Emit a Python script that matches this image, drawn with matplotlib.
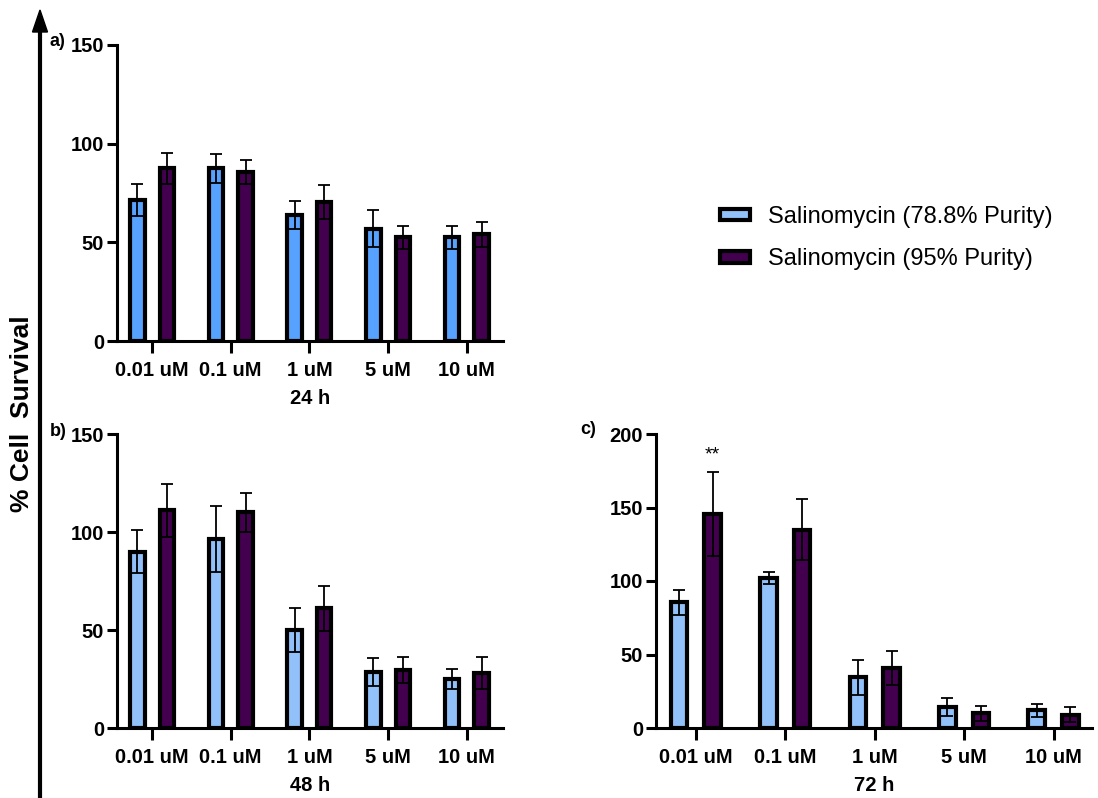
import matplotlib
matplotlib.use("Agg")
import matplotlib.pyplot as plt
from matplotlib.patches import Patch
import numpy as np

plt.rcParams['font.family'] = ['Liberation Sans', 'DejaVu Sans']

categories = ["0.01 uM", "0.1 uM", "1 uM", "5 uM", "10 uM"]
series_names = ["Salinomycin (78.8% Purity)", "Salinomycin (95% Purity)"]

# 24 h
a_low = [71.5, 87.5, 64.0, 57.0, 52.5]
a_low_err = [8.0, 7.5, 7.0, 9.5, 6.0]
a_high = [87.5, 85.5, 70.5, 52.5, 54.0]
a_high_err = [8.0, 6.0, 8.5, 6.0, 6.5]
# 48 h
b_low = [90.0, 96.5, 50.0, 28.5, 25.0]
b_low_err = [11.0, 17.0, 11.0, 7.0, 5.0]
b_high = [111.0, 110.0, 61.0, 29.5, 28.0]
b_high_err = [13.5, 10.0, 11.5, 6.5, 8.0]
# 72 h
c_low = [85.5, 102.0, 34.5, 14.5, 12.0]
c_low_err = [8.5, 4.0, 12.0, 6.0, 4.5]
c_high = [145.5, 135.0, 41.0, 10.0, 9.0]
c_high_err = [28.5, 21.0, 11.5, 5.0, 5.0]

W, H = 1098, 798
fig = plt.figure(figsize=(W / 100, H / 100), dpi=100)

dark = "#43004F"
light_a = "#58A2FF"
light_bc = "#92C1F9"

TFS = 14.5
bar_w = 0.185
off = 0.188


def px_axes(l, r, t, b):
    return fig.add_axes([l / W, 1 - b / H, (r - l) / W, (b - t) / H])


def draw(ax, low, low_err, high, high_err, light, ymax, yticks, xlabel, xlim):
    x = np.arange(len(categories))
    ekw = dict(ecolor="black", elinewidth=1.3, capsize=4.5, capthick=1.3)
    ax.bar(x - off, low, bar_w, color=light, edgecolor="black", linewidth=3.0,
           yerr=low_err, error_kw=ekw, zorder=2)
    ax.bar(x + off, high, bar_w, color=dark, edgecolor="black", linewidth=3.0,
           yerr=high_err, error_kw=ekw, zorder=2)
    ax.set_ylim(0, ymax)
    ax.set_xlim(*xlim)
    ax.set_yticks(yticks)
    ax.set_xticks(x)
    ax.set_xticklabels(categories, fontsize=TFS, fontweight="bold")
    for lab in ax.get_yticklabels():
        lab.set_fontsize(TFS)
        lab.set_fontweight("bold")
    ax.tick_params(axis="x", length=8.6, width=2.2, pad=5.5)
    ax.tick_params(axis="y", length=7.2, width=2.2, pad=2)
    for s in ["top", "right"]:
        ax.spines[s].set_visible(False)
    for s in ["left", "bottom"]:
        ax.spines[s].set_linewidth(2.2)
    ax.set_xlabel(xlabel, fontsize=TFS, fontweight="bold", labelpad=7)
    ax.patch.set_alpha(0)


axa = px_axes(117, 503, 45, 341)
draw(axa, a_low, a_low_err, a_high, a_high_err, light_a, 150, [0, 50, 100, 150],
     "24 h", (-0.445, 4.46))
axb = px_axes(117, 503, 434, 728)
draw(axb, b_low, b_low_err, b_high, b_high_err, light_bc, 150, [0, 50, 100, 150],
     "48 h", (-0.445, 4.46))
axc = px_axes(656, 1092, 434, 728)
draw(axc, c_low, c_low_err, c_high, c_high_err, light_bc, 200, [0, 50, 100, 150, 200],
     "72 h", (-0.447, 4.43))
axc.text(off, 180, "**", ha="center", va="bottom", fontsize=14)

# panel letters
fig.text(50 / W, 1 - 41 / H, "a)", fontsize=13, fontweight="bold", ha="left", va="center")
fig.text(50 / W, 1 - 431 / H, "b)", fontsize=13, fontweight="bold", ha="left", va="center")
fig.text(580 / W, 1 - 429 / H, "c)", fontsize=13, fontweight="bold", ha="left", va="center")

# shared y-axis arrow and label
fig.add_artist(plt.Line2D([40 / W, 40 / W], [0, 1 - 30 / H], transform=fig.transFigure,
                          color="black", linewidth=3))
fig.add_artist(plt.Polygon([[32.5 / W, 1 - 32 / H], [47.5 / W, 1 - 32 / H], [40 / W, 1 - 10 / H]],
                           closed=True, transform=fig.transFigure, color="black"))
fig.text(22 / W, 1 - 414 / H, "% Cell  Survival", rotation=90, fontsize=19,
         fontweight="bold", ha="center", va="center")

handles = [Patch(facecolor=light_bc, edgecolor="black", linewidth=3),
           Patch(facecolor=dark, edgecolor="black", linewidth=3)]
fig.legend(handles, series_names, loc="center left", bbox_to_anchor=(720 / W, 1 - 238 / H),
           frameon=False, fontsize=17, handlelength=1.25, handleheight=0.4,
           handletextpad=0.8, labelspacing=0.85, borderpad=0, borderaxespad=0)

fig.savefig("out.png", dpi=100)
